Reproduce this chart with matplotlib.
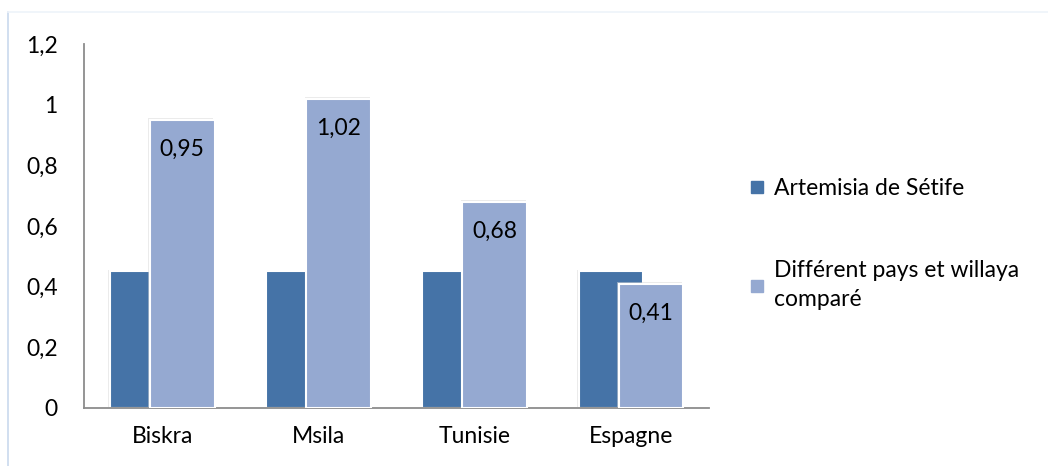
import matplotlib.pyplot as plt
import matplotlib.patheffects as pe
from matplotlib.lines import Line2D
import numpy as np

plt.rcParams['font.family'] = ['Lato', 'DejaVu Sans']

# Data
categories = ["Biskra", "Msila", "Tunisie", "Espagne"]
setif = [0.45, 0.45, 0.45, 0.45]
compared = [0.95, 1.02, 0.68, 0.41]
compared_labels = ["0,95", "1,02", "0,68", "0,41"]
yticks = [0, 0.2, 0.4, 0.6, 0.8, 1.0, 1.2]
ytick_labels = ["0", "0,2", "0,4", "0,6", "0,8", "1", "1,2"]

dark = "#4573a7"
light = "#95a9d1"
fs = 16.5

fig = plt.figure(figsize=(10.48, 4.66), dpi=100)
ax = fig.add_axes([0.0802, 0.1245, 0.5965, 0.7811])

x = np.arange(len(categories))
width = 0.415
shift = 0.128
shadow = [pe.SimplePatchShadow(offset=(-1, 1), shadow_rgbFace="#d8d8d8", alpha=0.5), pe.Normal()]

b1 = ax.bar(x - shift, setif, width, color=dark, edgecolor="white", linewidth=1.5,
            label="Artemisia de Sétife", zorder=2)
b2 = ax.bar(x + shift, compared, width, color=light, edgecolor="white", linewidth=1.5,
            label="Différent pays et willaya\ncomparé", zorder=3)
for bars in (b1, b2):
    for p in bars:
        p.set_path_effects(shadow)

# value labels inside the top of the light bars
for xi, v, lab in zip(x, compared, compared_labels):
    ax.annotate(lab, (xi + shift, v), xytext=(0, -14), textcoords="offset points",
                ha="center", va="top", fontsize=fs, zorder=4)

ax.set_xlim(-0.5, 3.5)
ax.set_ylim(0, 1.2)
ax.set_yticks(yticks)
ax.set_yticklabels(ytick_labels)
ax.set_xticks(x)
ax.set_xticklabels(categories)
ax.tick_params(axis="both", length=0, labelsize=fs)
ax.tick_params(axis="y", pad=19)
ax.tick_params(axis="x", pad=13)

for s in ("top", "right"):
    ax.spines[s].set_visible(False)
for s in ("left", "bottom"):
    ax.spines[s].set_color("#8c8c8c")
    ax.spines[s].set_linewidth(1.3)

handles = [Line2D([], [], marker="s", linestyle="none", markersize=9, color=dark),
           Line2D([], [], marker="s", linestyle="none", markersize=9, color=light)]
leg = fig.legend(handles, ["Artemisia de Sétife", "Différent pays et willaya\ncomparé"],
                 loc="upper left", bbox_to_anchor=(0.690, 0.662), frameon=False,
                 fontsize=fs, labelspacing=2.65, handletextpad=0.1, handlelength=1.2)
for t in leg.get_texts():
    t.set_linespacing(1.5)

# faint outer frame
fig.add_artist(Line2D([0.0076, 0.0076], [0.0, 0.974], color="#c9d9ee", lw=1.2))
fig.add_artist(Line2D([0.0076, 1.0], [0.974, 0.974], color="#eef3fa", lw=1.2))

fig.savefig("out.png", dpi=100)
